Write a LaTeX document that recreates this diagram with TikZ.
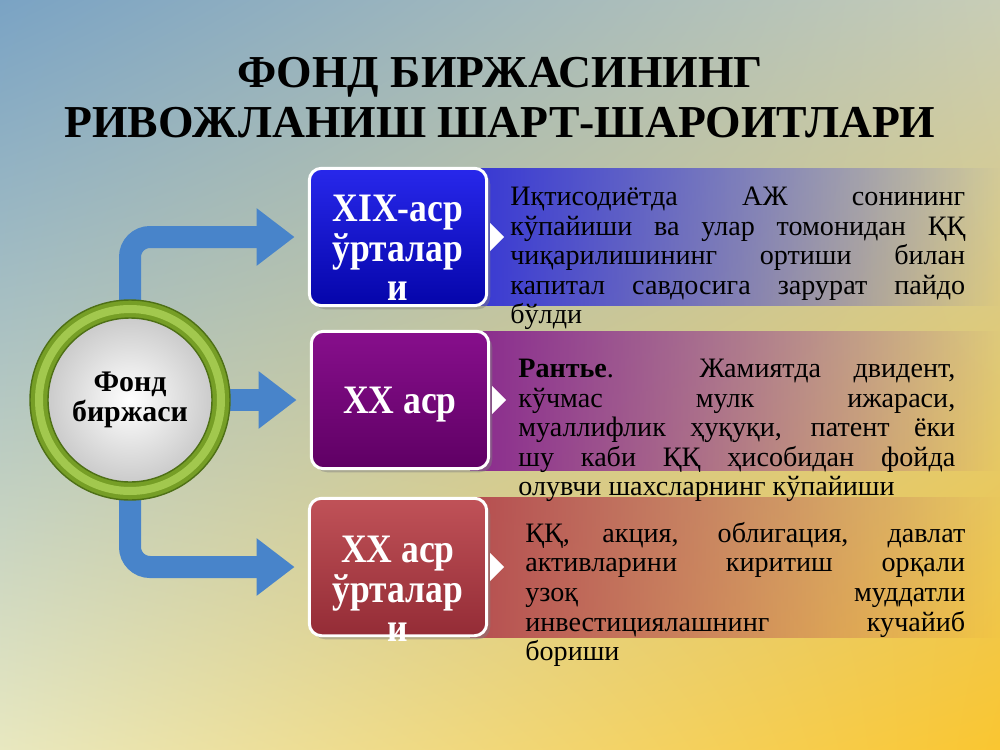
\documentclass[tikz,border=0pt]{standalone}
\usepackage{fontspec}
\setmainfont{Liberation Serif}
\newfontfamily\labelfont[FakeStretch=0.88]{Liberation Serif}
\usepackage{xcolor}
\usepackage{tikz}
\usetikzlibrary{arrows.meta,positioning,fadings,shadings,shadows,backgrounds}

\tolerance=9999
\hbadness=10000

\definecolor{bgtl}{RGB}{122,163,196}
\definecolor{bgtr}{RGB}{200,205,182}
\definecolor{bgbl}{RGB}{232,232,192}
\definecolor{bgbr}{RGB}{250,198,48}
\definecolor{arrowblue}{RGB}{72,132,202}
\definecolor{ringgreen}{RGB}{118,158,38}
\definecolor{ringlight}{RGB}{162,200,78}
\definecolor{ringdark}{RGB}{78,112,22}
\definecolor{blueA}{RGB}{40,40,235}
\definecolor{blueB}{RGB}{5,5,170}
\definecolor{purpA}{RGB}{135,15,140}
\definecolor{purpB}{RGB}{95,0,100}
\definecolor{redA}{RGB}{192,82,88}
\definecolor{redB}{RGB}{148,44,54}
\definecolor{blueband}{RGB}{55,55,212}
\definecolor{purpband}{RGB}{138,42,142}
\definecolor{redband}{RGB}{182,78,80}

\begin{document}
\begin{tikzpicture}[
  x=0.02cm,y=-0.02cm,
  hub/.style={circle,minimum size=3.64cm,draw=ringgreen,line width=0.36cm,inner color=white,outer color=gray!45,align=center,font=\bfseries\fontsize{17}{17}\selectfont},
  era/.style={draw=white,line width=1.7pt,rounded corners=7pt,minimum width=3.55cm,minimum height=2.75cm,drop shadow={opacity=0.45,shadow xshift=2pt,shadow yshift=-2pt}},
  eralabel/.style={align=center,text=white,font=\labelfont\bfseries\fontsize{23}{22.5}\selectfont},
  note/.style={align=justify,inner sep=0pt,anchor=north west,font=\fontsize{16}{16.8}\selectfont},
  band/.style={path fading=east},
  feed/.style={draw=arrowblue,line width=0.44cm,rounded corners=0.4cm,shorten >=7.5pt,-{Triangle[length=0.76cm,width=1.1cm]}},
  ptr/.style={fill=white}
]
\useasboundingbox (0,0) rectangle (1000,750);

% title
\node[align=center,font=\bfseries\fontsize{26}{28.5}\selectfont] (title) at (500,98)
  {ФОНД БИРЖАСИНИНГ\\РИВОЖЛАНИШ ШАРТ-ШАРОИТЛАРИ};

% hub
\node[hub] (fond) at (130,400) {Фонд\\биржаси};
\draw[ringlight,line width=0.16cm] (fond.center) circle[radius=91];
\draw[ringdark,line width=0.8pt] (fond.center) circle[radius=100];
\draw[ringdark,line width=0.8pt] (fond.center) circle[radius=82];

% periods
\node[era,top color=blueA,bottom color=blueB] (b1) at (398,237) {};
\node[era,top color=purpA,bottom color=purpB] (b2) at (400,400) {};
\node[era,top color=redA,bottom color=redB] (b3) at (398,567) {};

\node[eralabel] (l1) at (398,248) {XIX-аср\\ўрталар\\и};
\node[eralabel] (l2) at (400,405) {XX аср};
\node[eralabel] (l3) at (398,589) {XX аср\\ўрталар\\и};

\fill[ptr] (b1.east) ++(2,-14) -- ++(14,14) -- ++(-14,14) -- cycle;
\fill[ptr] (b2.east) ++(2,-14) -- ++(14,14) -- ++(-14,14) -- cycle;
\fill[ptr] (b3.east) ++(2,-14) -- ++(14,14) -- ++(-14,14) -- cycle;

% descriptions
\node[note,text width=9.1cm] (t1) at (510,187)
  {Иқтисодиётда АЖ сонининг\linebreak кўпайиши ва улар томонидан ҚҚ\linebreak
   чиқарилишининг ортиши билан\linebreak капитал савдосига зарурат пайдо\linebreak бўлди};
\node[note,text width=8.74cm] (t2) at (518,359)
  {\textbf{Рантье}. Жамиятда двидент,\linebreak кўчмас мулк ижараси,\linebreak
   муаллифлик ҳуқуқи, патент ёки\linebreak шу каби ҚҚ ҳисобидан фойда\linebreak олувчи шахсларнинг кўпайиши};
\node[note,text width=8.8cm] (t3) at (525,522)
  {ҚҚ, акция, облигация, давлат\linebreak активларини киритиш орқали\linebreak
   узоқ муддатли\linebreak инвестициялашнинг кучайиб\linebreak бориши};

\begin{pgfonlayer}{background}
  \shade[upper left=bgtl,upper right=bgtr,lower left=bgbl,lower right=bgbr] (0,0) rectangle (1000,750);
  \fill[blueband,band] (470,168) rectangle (1000,306);
  \fill[purpband,band] (470,331) rectangle (1000,471);
  \fill[redband,band] (470,497) rectangle (1000,638);
  \draw[feed] (fond.north) |- (b1.west);
  \draw[feed] (fond.east) -- (b2.west);
  \draw[feed] (fond.south) |- (b3.west);
\end{pgfonlayer}
\end{tikzpicture}
\end{document}
